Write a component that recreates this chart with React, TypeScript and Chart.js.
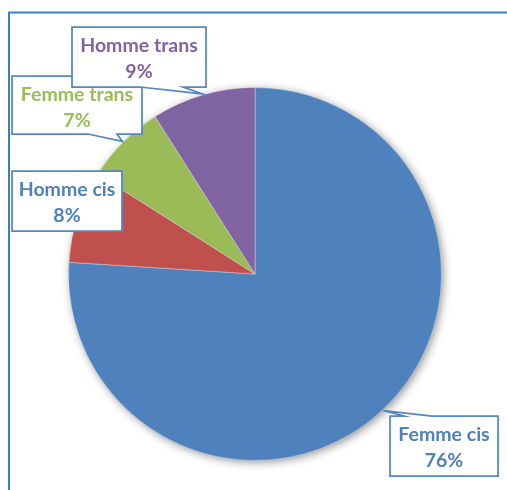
import React, { useEffect, useRef } from "react";
import { Chart, registerables } from "chart.js";

Chart.register(...registerables);

// ---- data ----
const categories = ["Femme cis", "Homme cis", "Femme trans", "Homme trans"];
const shares = [76, 8, 7, 9];
const sliceColors = ["#4F81BD", "#C0504D", "#9BBB59", "#8064A2"];
const labelColors = ["#4F81BD", "#4F81BD", "#9BBB59", "#8064A2"];

// ---- layout of callout boxes (annotation positions, not data) ----
type Box = { x: number; y: number; w: number; h: number; edge: "top" | "bottom" | null; b1: number; b2: number };
const calloutBoxes: Box[] = [
  { x: 390, y: 416, w: 108, h: 60, edge: "top", b1: 404, b2: 432 },
  { x: 12, y: 171, w: 110, h: 60, edge: null, b1: 0, b2: 0 },
  { x: 12, y: 76, w: 130, h: 58, edge: "bottom", b1: 88, b2: 117 },
  { x: 72, y: 27, w: 134, h: 60, edge: "bottom", b1: 140, b2: 183 },
];
const drawOrder = [0, 1, 2, 3];

const FONT = "bold 19.5px Lato, 'Open Sans', sans-serif";

const decorPlugin = {
  id: "decor",
  beforeDraw(chart: any) {
    const ctx = chart.ctx;
    ctx.save();
    ctx.fillStyle = "#ffffff";
    ctx.fillRect(0, 0, chart.width, chart.height);
    ctx.strokeStyle = "#3A7DC9";
    ctx.lineWidth = 2;
    ctx.beginPath();
    ctx.moveTo(9, chart.height);
    ctx.lineTo(9, 12.5);
    ctx.lineTo(chart.width, 12.5);
    ctx.stroke();
    ctx.restore();
  },
  beforeDatasetsDraw(chart: any) {
    const meta = chart.getDatasetMeta(0);
    const a = meta.data[0];
    if (!a) return;
    const ctx = chart.ctx;
    ctx.save();
    ctx.shadowColor = "rgba(0,0,0,0.45)";
    ctx.shadowBlur = 10;
    ctx.shadowOffsetX = 2;
    ctx.shadowOffsetY = 2;
    ctx.fillStyle = "#4F81BD";
    ctx.beginPath();
    ctx.arc(a.x, a.y, a.outerRadius - 0.5, 0, Math.PI * 2);
    ctx.fill();
    ctx.restore();
  },
  afterDatasetsDraw(chart: any) {
    const meta = chart.getDatasetMeta(0);
    const ctx = chart.ctx;
    const data = chart.data.datasets[0].data as number[];
    const total = data.reduce((s, v) => s + v, 0);
    drawOrder.forEach((i) => {
      const arc = meta.data[i];
      const box = calloutBoxes[i];
      const mid = (arc.startAngle + arc.endAngle) / 2;
      const tx = arc.x + Math.cos(mid) * (arc.outerRadius + 1);
      const ty = arc.y + Math.sin(mid) * (arc.outerRadius + 1);
      const { x, y, w, h } = box;
      ctx.save();
      ctx.beginPath();
      if (box.edge === "top") {
        ctx.moveTo(x, y);
        ctx.lineTo(box.b1, y);
        ctx.lineTo(tx, ty);
        ctx.lineTo(box.b2, y);
        ctx.lineTo(x + w, y);
        ctx.lineTo(x + w, y + h);
        ctx.lineTo(x, y + h);
      } else if (box.edge === "bottom") {
        ctx.moveTo(x, y);
        ctx.lineTo(x + w, y);
        ctx.lineTo(x + w, y + h);
        ctx.lineTo(box.b2, y + h);
        ctx.lineTo(tx, ty);
        ctx.lineTo(box.b1, y + h);
        ctx.lineTo(x, y + h);
      } else {
        ctx.rect(x, y, w, h);
      }
      ctx.closePath();
      ctx.fillStyle = "#ffffff";
      ctx.fill();
      ctx.strokeStyle = "#5587C4";
      ctx.lineWidth = 1.75;
      ctx.lineJoin = "miter";
      ctx.stroke();
      ctx.fillStyle = labelColors[i];
      ctx.font = FONT;
      ctx.textAlign = "center";
      ctx.textBaseline = "alphabetic";
      const cx = x + w / 2;
      ctx.fillText(chart.data.labels[i], cx, y + 25);
      ctx.fillText(Math.round((data[i] / total) * 100) + "%", cx, y + 51);
      ctx.restore();
    });
  },
};

export default function App() {
  const ref = useRef<HTMLCanvasElement>(null);
  useEffect(() => {
    if (!ref.current) return;
    const chart = new Chart(ref.current, {
      type: "pie",
      data: {
        labels: categories,
        datasets: [
          {
            data: shares,
            backgroundColor: sliceColors,
            borderColor: "rgba(255,255,255,0.35)",
            borderWidth: 1,
          },
        ],
      },
      options: {
        responsive: false,
        animation: false,
        devicePixelRatio: 1,
        layout: { padding: { left: 68, right: 65, top: 87, bottom: 29 } },
        plugins: { legend: { display: false }, tooltip: { enabled: false } },
        events: [],
      },
      plugins: [decorPlugin],
    });
    return () => chart.destroy();
  }, []);
  return (
    <div style={{ position: "absolute", left: 0, top: 0, width: 507, height: 490 }}>
      <canvas ref={ref} width={507} height={490} />
    </div>
  );
}
